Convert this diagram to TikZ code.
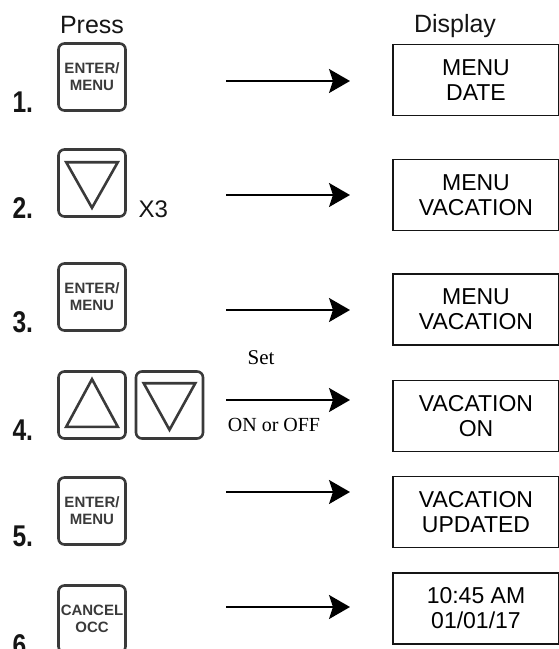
\documentclass[tikz,border=0pt]{standalone}
\usepackage{fontspec}
\setmainfont{Liberation Sans}
\newfontfamily\serifface{Liberation Serif}
\newfontfamily\narrowface[FakeStretch=0.82]{Liberation Sans}
\usetikzlibrary{arrows.meta}
\definecolor{keygray}{HTML}{3A3A3A}
\definecolor{inkblack}{HTML}{151515}

\begin{document}
\begin{tikzpicture}[x=1pt,y=-1pt,
    key/.style={draw=keygray, line width=2.6pt, rounded corners=6pt, minimum width=67pt, minimum height=67pt,
        inner sep=0pt, text=keygray, align=center, font=\bfseries\fontsize{15}{17}\selectfont},
    screen/.style={draw=inkblack, line width=1.6pt, minimum width=166pt, minimum height=71pt,
        inner sep=0pt, align=center, font=\fontsize{23}{25}\selectfont},
    flow/.style={line width=2pt, -{Stealth[length=21pt,width=24pt,inset=4pt]}},
    stepno/.style={anchor=base west, text=inkblack, font=\narrowface\bfseries\fontsize{30}{30}\selectfont},
    tri/.style={draw=keygray, line width=2.6pt, line join=miter}]
    \useasboundingbox (0,0) rectangle (559,649);

    % headings
    \node[anchor=base, text=inkblack, font=\fontsize{25}{30}\selectfont] (press) at (92,33) {Press};
    \node[anchor=base, text=inkblack, font=\fontsize{25}{30}\selectfont] (show) at (455,32) {Display};

    % step numbers
    \foreach \n/\y in {1/112,2/218,3/332,4/440,5/546,6/655}
        \node[stepno] (n\n) at (9,\y) {\n.};

    % keys
    \node[key] (k1) at (92,77) {ENTER/\\MENU};

    \node[key] (k2) at (92,183) {};
    \draw[tri] ([shift={(9,14)}]k2.north west) -- ([shift={(-9,14)}]k2.north east) -- ([shift={(0,-10)}]k2.south) -- cycle;
    \node[anchor=base west, text=inkblack, font=\fontsize{24}{24}\selectfont] (times) at (135,217) {X3};

    \node[key] (k3) at (92,297) {ENTER/\\MENU};

    \node[key] (k4) at (92,405) {};
    \draw[tri] ([shift={(9,-13)}]k4.south west) -- ([shift={(-9,-13)}]k4.south east) -- ([shift={(0,9)}]k4.north) -- cycle;
    \node[key] (k4b) at (169.5,405) {};
    \draw[tri] ([shift={(9,13)}]k4b.north west) -- ([shift={(-9,13)}]k4b.north east) -- ([shift={(0,-10)}]k4b.south) -- cycle;

    \node[key] (k5) at (92,511) {ENTER/\\MENU};

    \node[key] (k6) at (92,619) {CANCEL\\OCC};

    % arrows
    \foreach \i/\y in {1/81,2/195,3/310,4/400,5/492,6/607} {
        \coordinate (s\i) at (226,\y);
        \coordinate (e\i) at (350,\y);
        \draw[flow] (s\i) -- (e\i);
    }
    \node[anchor=base, font=\serifface\fontsize{21}{21}\selectfont] (setlbl) at (261,364) {Set};
    \node[anchor=base, font=\serifface\fontsize{20}{20}\selectfont] (onoff) at (274,431) {ON or OFF};

    % displays
    \node[screen] (d1) at (476,80) {MENU\\DATE};
    \node[screen] (d2) at (476,195) {MENU\\VACATION};
    \node[screen] (d3) at (476,309.5) {MENU\\VACATION};
    \node[screen] (d4) at (476,416) {VACATION\\ON};
    \node[screen] (d5) at (476,512) {VACATION\\UPDATED};
    \node[screen] (d6) at (476,608.5) {10:45 AM\\01/01/17};

\end{tikzpicture}
\end{document}
